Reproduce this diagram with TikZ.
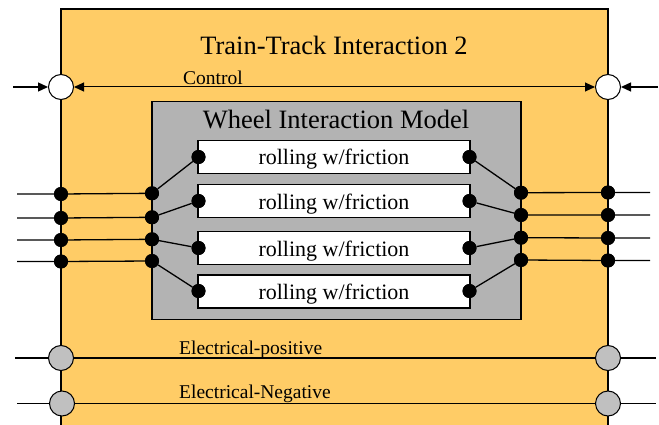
\documentclass[tikz,border=0pt]{standalone}
\usepackage{fontspec}
\setmainfont{Liberation Serif}
\usetikzlibrary{arrows.meta}
\definecolor{outerfill}{RGB}{255,204,102}
\definecolor{modelfill}{RGB}{179,179,179}
\definecolor{portgray}{RGB}{192,192,192}
\begin{document}
\begin{tikzpicture}[x=1pt,y=-1pt,
  frame/.style={draw=black, line width=1.5pt, inner sep=0pt},
  wire/.style={draw=black, line width=1.3pt},
  pin/.style={circle, fill=black, inner sep=0pt, minimum size=14pt},
  ctrlport/.style={circle, draw=black, line width=1pt, fill=white, inner sep=0pt, minimum size=25pt},
  elecport/.style={circle, draw=black, line width=1pt, fill=portgray, inner sep=0pt, minimum size=25pt},
  tip/.style={-{Triangle[length=10pt,width=9pt]}},
  label/.style={inner sep=0pt, anchor=base, font=\fontsize{19.5}{20}\selectfont},
  rollbox/.style={frame, line width=1.2pt, fill=white, minimum width=272pt, minimum height=33pt}
]
\useasboundingbox (0,0) rectangle (659,425);
\clip (0,0) rectangle (659,425);

% outer subsystem block (runs past the lower edge)
\node[frame, fill=outerfill, minimum width=547pt, minimum height=440pt] (outer) at (334.5,229) {};
\node[inner sep=0pt, anchor=base, font=\fontsize{26.5}{28}\selectfont] (title) at (334,55) {Train-Track Interaction 2};

% wheel interaction model
\node[frame, line width=1.2pt, fill=modelfill, minimum width=369pt, minimum height=218pt] (model) at (336.5,210.5) {};
\node[inner sep=0pt, anchor=base, font=\fontsize{26.5}{28}\selectfont] (mtitle) at (336,128.5) {Wheel Interaction Model};

% rolling contact blocks
\node[rollbox] (r1) at (334,157) {};
\node[rollbox] (r2) at (334,201) {};
\node[rollbox] (r3) at (334,248) {};
\node[rollbox] (r4) at (334,291.5) {};
\foreach \i/\y in {1/165, 2/209.5, 3/256, 4/299.5}
  \node[inner sep=0pt, anchor=base, font=\fontsize{22}{24}\selectfont] (t\i) at (334,\y) {rolling w/friction};

% control ports and signal
\node[ctrlport] (cl) at (61,87) {};
\node[ctrlport] (cr) at (608,87) {};
\coordinate (cinL) at (13,87);
\coordinate (cinR) at (658,87);
\draw[wire, line width=1pt, {Triangle[length=10pt,width=9pt]}-{Triangle[length=10pt,width=9pt]}] (cl.east) -- (cr.west);
\draw[wire, tip] (cinL) -- (cl.west);
\draw[wire, tip] (cinR) -- (cr.east);
\node[label] (ctext) at (213,85) {Control};

% mechanical connections, left side
\foreach \i/\ya/\yb/\yc in {1/194/193.3/157, 2/218/217.3/201, 3/240/239.3/248, 4/261.5/261/291}{
  \node[pin] (lo\i) at (61,\ya) {};
  \node[pin] (lm\i) at (152,\yb) {};
  \node[pin] (lr\i) at (198.5,\yc) {};
  \coordinate (le\i) at (17,\ya);
  \draw[wire] (le\i) -- (lo\i) -- (lm\i) -- (lr\i);
}
% mechanical connections, right side
\foreach \i/\ya/\yb/\yc in {1/192.5/192.7/157, 2/215/215/201, 3/238/237.7/248, 4/260.5/260/291}{
  \node[pin] (ro\i) at (608,\ya) {};
  \node[pin] (rm\i) at (521,\yb) {};
  \node[pin] (rr\i) at (469.5,\yc) {};
  \coordinate (re\i) at (650,\ya);
  \draw[wire] (rr\i) -- (rm\i) -- (ro\i) -- (re\i);
}
% redraw pins on top of the wires
\foreach \n in {lo1,lo2,lo3,lo4,lm1,lm2,lm3,lm4,lr1,lr2,lr3,lr4,ro1,ro2,ro3,ro4,rm1,rm2,rm3,rm4,rr1,rr2,rr3,rr4}
  \fill (\n) circle (7pt);

% electrical ports
\node[elecport] (epl) at (61,358) {};
\node[elecport] (epr) at (608,358) {};
\node[elecport] (enl) at (62,403.5) {};
\node[elecport] (enr) at (608,403.5) {};
\coordinate (epinL) at (15,358);
\coordinate (epinR) at (656,358);
\coordinate (eninL) at (17,403.5);
\coordinate (eninR) at (656,403.5);
\draw[wire] (epl) -- (epr);
\draw[wire] (enl) -- (enr);
\draw[wire] (epinL) -- (epl.west);
\draw[wire] (epr.east) -- (epinR);
\draw[wire] (eninL) -- (enl.west);
\draw[wire] (enr.east) -- (eninR);
\node[label, anchor=base west] (eptext) at (179,354) {Electrical-positive};
\node[label, anchor=base west] (entext) at (179,398.3) {Electrical-Negative};
\end{tikzpicture}
\end{document}
